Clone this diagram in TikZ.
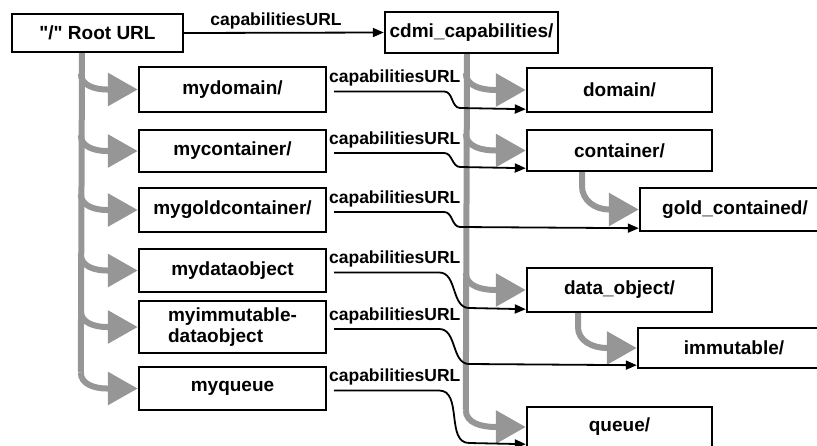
\documentclass[tikz,border=0pt]{standalone}
\usepackage{fontspec}
\setmainfont{Liberation Sans}[Ligatures=TeXOff]
\usetikzlibrary{arrows.meta}
\definecolor{branchgray}{RGB}{150,150,150}
\begin{document}
\begin{tikzpicture}[x=1pt,y=-1pt,
  box/.style={draw, line width=2.4pt, minimum width=187pt, minimum height=43pt,
    inner sep=0pt, font=\fontsize{19}{20.5}\selectfont\bfseries},
  trunk/.style={draw=branchgray, line width=6pt},
  tree/.style={trunk, -{Triangle[length=30pt,width=32pt]}},
  link/.style={draw, line width=1.8pt, -{Triangle[length=11pt,width=9pt]}},
  lbl/.style={font=\fontsize{17.5}{19}\selectfont\bfseries, inner sep=0pt},
  lblstart/.style={lbl, anchor=south west, xshift=-6pt, yshift=4pt}
]
\useasboundingbox (0,0) rectangle (817,445);

% top row
\node[box, minimum width=171pt, minimum height=38pt] (root) at (97.5,33) {"/" Root URL};
\node[box, minimum width=173pt, minimum height=41pt] (cdmi) at (471.5,32.5) {cdmi\_capabilities/};

% left column: objects below the root
\node[box, minimum height=45pt] (mydomain) at (232.5,89.5) {mydomain/};
\node[box, minimum height=42pt] (mycontainer) at (232.5,151) {mycontainer/};
\node[box, minimum height=44pt] (mygold) at (232.5,210) {mygoldcontainer/};
\node[box, minimum height=43pt] (mydata) at (232.5,270.5) {mydataobject};
\node[box, minimum height=52pt, align=left] (myimm) at (232.5,327) {myimmutable-\\dataobject};
\node[box, minimum height=43pt] (myqueue) at (232.5,388.5) {myqueue};

% right column: capability objects
\node[box, minimum width=185pt, minimum height=44pt] (domain) at (619.5,90) {domain/};
\node[box, minimum width=185pt, minimum height=41pt] (container) at (619.5,150.5) {container/};
\node[box, minimum width=190pt, minimum height=43pt] (gold) at (735,209.5) {gold\_contained/};
\node[box, minimum width=185pt, minimum height=44pt] (dataobj) at (619.5,290) {data\_object/};
\node[box, minimum width=192pt, minimum height=40pt] (immut) at (734,348) {immutable/};
\node[box, minimum width=185pt, minimum height=40pt] (queue) at (619.5,427) {queue/};

% gray hierarchy under the root URL
\draw[trunk] ([xshift=-15.5pt]root.south) -- ([xshift=-57pt,yshift=16pt]myqueue.west);
\foreach \b in {mydomain,mycontainer,mygold,mydata,myimm,myqueue}
  \draw[tree] ([xshift=-57pt,yshift=16pt]\b.west) to[out=-90,in=180]
    ([xshift=-31pt]\b.west) -- (\b.west);

% gray hierarchy under cdmi_capabilities/
\draw[trunk] ([xshift=-4.5pt]cdmi.south) -- ([xshift=-60pt,yshift=17pt]queue.west);
\foreach \b in {domain,container,dataobj,queue}
  \draw[tree] ([xshift=-60pt,yshift=17pt]\b.west) to[out=-90,in=180]
    ([xshift=-30pt]\b.west) -- (\b.west);
\draw[tree] ([xshift=-37.5pt]container.south) -- ++(0,14) to[out=-90,in=180]
  ([xshift=-30pt]gold.west) -- (gold.west);
\draw[tree] ([xshift=-41.5pt]dataobj.south) -- ++(0,14) to[out=-90,in=180]
  ([xshift=-30pt]immut.west) -- (immut.west);

% capabilitiesURL links
\draw[link] (root.east) -- (cdmi.west)
  node[lbl, midway, above=3pt, xshift=-8pt] {capabilitiesURL};
\draw[link] ([xshift=7pt,yshift=-2pt]mydomain.east) node[lblstart] {capabilitiesURL}
  -- ++(110,0) to[out=0,in=180] ++(16,16.5) -- ([yshift=4pt]domain.south west);
\draw[link] ([xshift=7pt,yshift=-2pt]mycontainer.east) node[lblstart] {capabilitiesURL}
  -- ++(110,0) to[out=0,in=180] ++(16,14) -- ([yshift=4pt]container.south west);
\draw[link] ([xshift=7pt,yshift=-2pt]mygold.east) node[lblstart] {capabilitiesURL}
  -- ++(110,0) to[out=0,in=180] ++(16,15) -- ([yshift=4pt]gold.south west);
\draw[link] ([xshift=7pt,yshift=-2pt]mydata.east) node[lblstart] {capabilitiesURL}
  -- ++(105,0) to[out=0,in=180] ++(30,35.5) -- ([yshift=4pt]dataobj.south west);
\draw[link] ([xshift=7pt,yshift=-2pt]myimm.east) node[lblstart] {capabilitiesURL}
  -- ++(105,0) to[out=0,in=180] ++(30,35) -- ([yshift=4pt]immut.south west);
\draw[link] ([xshift=7pt,yshift=-2pt]myqueue.east) node[lblstart] {capabilitiesURL}
  -- ++(105,0) to[out=0,in=180] ++(30,52.5) -- ([yshift=4pt]queue.south west);
\end{tikzpicture}
\end{document}
